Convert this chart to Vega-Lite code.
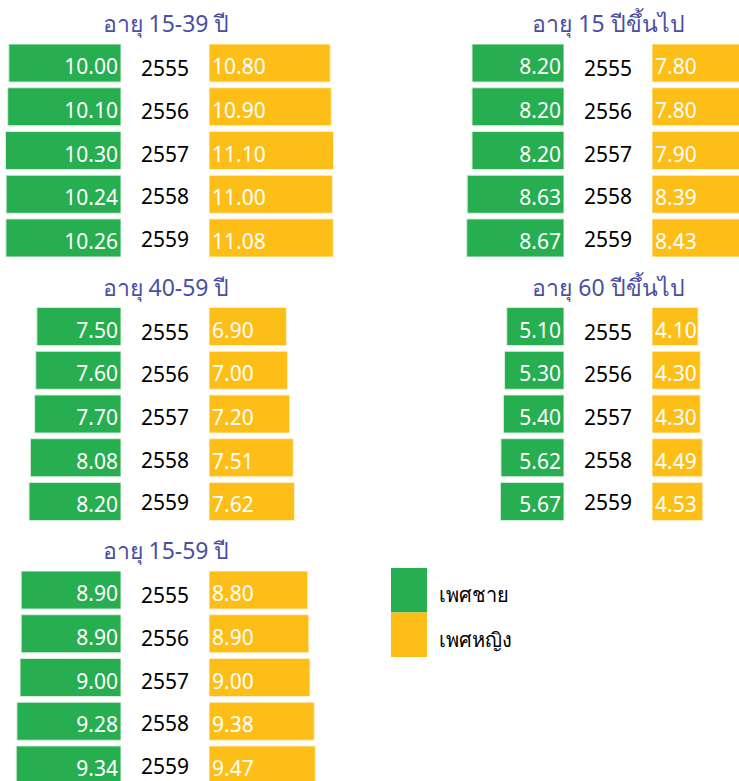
{
  "$schema": "https://vega.github.io/schema/vega-lite/v6.json",
  "padding": {"left": 5, "top": 14, "right": 0, "bottom": 0},
  "config": {
    "font": "Noto Sans",
    "view": {"stroke": null},
    "title": {"fontSize": 23, "fontWeight": "normal", "color": "#4a4fa3", "anchor": "middle", "offset": 7},
    "bar": {"strokeWidth": 1}
  },
  "datasets": {
    "p1": [
      {"year": "2555", "male": 10.00, "female": 10.80},
      {"year": "2556", "male": 10.10, "female": 10.90},
      {"year": "2557", "male": 10.30, "female": 11.10},
      {"year": "2558", "male": 10.24, "female": 11.00},
      {"year": "2559", "male": 10.26, "female": 11.08}
    ],
    "p2": [
      {"year": "2555", "male": 8.20, "female": 7.80},
      {"year": "2556", "male": 8.20, "female": 7.80},
      {"year": "2557", "male": 8.20, "female": 7.90},
      {"year": "2558", "male": 8.63, "female": 8.39},
      {"year": "2559", "male": 8.67, "female": 8.43}
    ],
    "p3": [
      {"year": "2555", "male": 7.50, "female": 6.90},
      {"year": "2556", "male": 7.60, "female": 7.00},
      {"year": "2557", "male": 7.70, "female": 7.20},
      {"year": "2558", "male": 8.08, "female": 7.51},
      {"year": "2559", "male": 8.20, "female": 7.62}
    ],
    "p4": [
      {"year": "2555", "male": 5.10, "female": 4.10},
      {"year": "2556", "male": 5.30, "female": 4.30},
      {"year": "2557", "male": 5.40, "female": 4.30},
      {"year": "2558", "male": 5.62, "female": 4.49},
      {"year": "2559", "male": 5.67, "female": 4.53}
    ],
    "p5": [
      {"year": "2555", "male": 8.90, "female": 8.80},
      {"year": "2556", "male": 8.90, "female": 8.90},
      {"year": "2557", "male": 9.00, "female": 9.00},
      {"year": "2558", "male": 9.28, "female": 9.38},
      {"year": "2559", "male": 9.34, "female": 9.47}
    ],
    "leg": [
      {"sex": "เพศชาย"},
      {"sex": "เพศหญิง"}
    ]
  },
  "spacing": 20.5,
  "vconcat": [
    {
      "spacing": 125,
      "hconcat": [
        {
          "title": {"text": "อายุ 15-39 ปี", "dx": -6},
          "spacing": 0,
          "data": {"name": "p1"},
          "hconcat": [
            {"width": 116, "height": 213,
             "layer": [
               {"mark": {"type": "bar", "color": "#27ae50", "stroke": "#d8efdc", "clip": true},
                "encoding": {"y": {"field": "year", "type": "ordinal", "scale": {"paddingInner": 0.13, "paddingOuter": 0}, "axis": null},
                             "x": {"field": "male", "type": "quantitative", "scale": {"domain": [0, 10.34], "reverse": true, "nice": false}, "axis": null}}},
               {"mark": {"type": "text", "align": "right", "baseline": "middle", "dx": -3, "dy": 5, "color": "white", "fontSize": 21},
                "encoding": {"y": {"field": "year", "type": "ordinal"},
                             "x": {"datum": 0, "type": "quantitative"},
                             "text": {"field": "male", "type": "quantitative", "format": ".2f"}}}
             ]},
            {"width": 88, "height": 213,
             "mark": {"type": "text", "align": "center", "baseline": "middle", "dy": 5, "color": "black", "fontSize": 21},
             "encoding": {"y": {"field": "year", "type": "ordinal", "scale": {"paddingInner": 0.13, "paddingOuter": 0}, "axis": null},
                          "text": {"field": "year", "type": "nominal"}}},
            {"width": 130, "height": 213,
             "layer": [
               {"mark": {"type": "bar", "color": "#fdbe17", "stroke": "#fff0c8", "clip": true},
                "encoding": {"y": {"field": "year", "type": "ordinal", "scale": {"paddingInner": 0.13, "paddingOuter": 0}, "axis": null},
                             "x": {"field": "female", "type": "quantitative", "scale": {"domain": [0, 11.586], "nice": false}, "axis": null}}},
               {"mark": {"type": "text", "align": "left", "baseline": "middle", "dx": 3, "dy": 5, "color": "white", "fontSize": 21},
                "encoding": {"y": {"field": "year", "type": "ordinal"},
                             "x": {"datum": 0, "type": "quantitative"},
                             "text": {"field": "female", "type": "quantitative", "format": ".2f"}}}
             ]}
          ]
        },
        {
          "title": {"text": "อายุ 15 ปีขึ้นไป", "dx": 7},
          "spacing": 0,
          "data": {"name": "p2"},
          "hconcat": [
            {"width": 100, "height": 213,
             "layer": [
               {"mark": {"type": "bar", "color": "#27ae50", "stroke": "#d8efdc", "clip": true},
                "encoding": {"y": {"field": "year", "type": "ordinal", "scale": {"paddingInner": 0.13, "paddingOuter": 0}, "axis": null},
                             "x": {"field": "male", "type": "quantitative", "scale": {"domain": [0, 8.913], "reverse": true, "nice": false}, "axis": null}}},
               {"mark": {"type": "text", "align": "right", "baseline": "middle", "dx": -3, "dy": 5, "color": "white", "fontSize": 21},
                "encoding": {"y": {"field": "year", "type": "ordinal"},
                             "x": {"datum": 0, "type": "quantitative"},
                             "text": {"field": "male", "type": "quantitative", "format": ".2f"}}}
             ]},
            {"width": 88, "height": 213,
             "mark": {"type": "text", "align": "center", "baseline": "middle", "dy": 5, "color": "black", "fontSize": 21},
             "encoding": {"y": {"field": "year", "type": "ordinal", "scale": {"paddingInner": 0.13, "paddingOuter": 0}, "axis": null},
                          "text": {"field": "year", "type": "nominal"}}},
            {"width": 87, "height": 213,
             "layer": [
               {"mark": {"type": "bar", "color": "#fdbe17", "stroke": "#fff0c8", "clip": true},
                "encoding": {"y": {"field": "year", "type": "ordinal", "scale": {"paddingInner": 0.13, "paddingOuter": 0}, "axis": null},
                             "x": {"field": "female", "type": "quantitative", "scale": {"domain": [0, 7.754], "nice": false}, "axis": null}}},
               {"mark": {"type": "text", "align": "left", "baseline": "middle", "dx": 3, "dy": 5, "color": "white", "fontSize": 21},
                "encoding": {"y": {"field": "year", "type": "ordinal"},
                             "x": {"datum": 0, "type": "quantitative"},
                             "text": {"field": "female", "type": "quantitative", "format": ".2f"}}}
             ]}
          ]
        }
      ]
    },
    {
      "spacing": 125,
      "hconcat": [
        {
          "title": {"text": "อายุ 40-59 ปี", "dx": -6},
          "spacing": 0,
          "data": {"name": "p3"},
          "hconcat": [
            {"width": 116, "height": 213,
             "layer": [
               {"mark": {"type": "bar", "color": "#27ae50", "stroke": "#d8efdc", "clip": true},
                "encoding": {"y": {"field": "year", "type": "ordinal", "scale": {"paddingInner": 0.13, "paddingOuter": 0}, "axis": null},
                             "x": {"field": "male", "type": "quantitative", "scale": {"domain": [0, 10.34], "reverse": true, "nice": false}, "axis": null}}},
               {"mark": {"type": "text", "align": "right", "baseline": "middle", "dx": -3, "dy": 5, "color": "white", "fontSize": 21},
                "encoding": {"y": {"field": "year", "type": "ordinal"},
                             "x": {"datum": 0, "type": "quantitative"},
                             "text": {"field": "male", "type": "quantitative", "format": ".2f"}}}
             ]},
            {"width": 88, "height": 213,
             "mark": {"type": "text", "align": "center", "baseline": "middle", "dy": 5, "color": "black", "fontSize": 21},
             "encoding": {"y": {"field": "year", "type": "ordinal", "scale": {"paddingInner": 0.13, "paddingOuter": 0}, "axis": null},
                          "text": {"field": "year", "type": "nominal"}}},
            {"width": 130, "height": 213,
             "layer": [
               {"mark": {"type": "bar", "color": "#fdbe17", "stroke": "#fff0c8", "clip": true},
                "encoding": {"y": {"field": "year", "type": "ordinal", "scale": {"paddingInner": 0.13, "paddingOuter": 0}, "axis": null},
                             "x": {"field": "female", "type": "quantitative", "scale": {"domain": [0, 11.586], "nice": false}, "axis": null}}},
               {"mark": {"type": "text", "align": "left", "baseline": "middle", "dx": 3, "dy": 5, "color": "white", "fontSize": 21},
                "encoding": {"y": {"field": "year", "type": "ordinal"},
                             "x": {"datum": 0, "type": "quantitative"},
                             "text": {"field": "female", "type": "quantitative", "format": ".2f"}}}
             ]}
          ]
        },
        {
          "title": {"text": "อายุ 60 ปีขึ้นไป", "dx": 7},
          "spacing": 0,
          "data": {"name": "p4"},
          "hconcat": [
            {"width": 100, "height": 213,
             "layer": [
               {"mark": {"type": "bar", "color": "#27ae50", "stroke": "#d8efdc", "clip": true},
                "encoding": {"y": {"field": "year", "type": "ordinal", "scale": {"paddingInner": 0.13, "paddingOuter": 0}, "axis": null},
                             "x": {"field": "male", "type": "quantitative", "scale": {"domain": [0, 8.913], "reverse": true, "nice": false}, "axis": null}}},
               {"mark": {"type": "text", "align": "right", "baseline": "middle", "dx": -3, "dy": 5, "color": "white", "fontSize": 21},
                "encoding": {"y": {"field": "year", "type": "ordinal"},
                             "x": {"datum": 0, "type": "quantitative"},
                             "text": {"field": "male", "type": "quantitative", "format": ".2f"}}}
             ]},
            {"width": 88, "height": 213,
             "mark": {"type": "text", "align": "center", "baseline": "middle", "dy": 5, "color": "black", "fontSize": 21},
             "encoding": {"y": {"field": "year", "type": "ordinal", "scale": {"paddingInner": 0.13, "paddingOuter": 0}, "axis": null},
                          "text": {"field": "year", "type": "nominal"}}},
            {"width": 87, "height": 213,
             "layer": [
               {"mark": {"type": "bar", "color": "#fdbe17", "stroke": "#fff0c8", "clip": true},
                "encoding": {"y": {"field": "year", "type": "ordinal", "scale": {"paddingInner": 0.13, "paddingOuter": 0}, "axis": null},
                             "x": {"field": "female", "type": "quantitative", "scale": {"domain": [0, 7.754], "nice": false}, "axis": null}}},
               {"mark": {"type": "text", "align": "left", "baseline": "middle", "dx": 3, "dy": 5, "color": "white", "fontSize": 21},
                "encoding": {"y": {"field": "year", "type": "ordinal"},
                             "x": {"datum": 0, "type": "quantitative"},
                             "text": {"field": "female", "type": "quantitative", "format": ".2f"}}}
             ]}
          ]
        }
      ]
    },
    {
      "spacing": 52,
      "hconcat": [
        {
          "title": {"text": "อายุ 15-59 ปี", "dx": -6},
          "spacing": 0,
          "data": {"name": "p5"},
          "hconcat": [
            {"width": 116, "height": 212,
             "layer": [
               {"mark": {"type": "bar", "color": "#27ae50", "stroke": "#d8efdc", "clip": true},
                "encoding": {"y": {"field": "year", "type": "ordinal", "scale": {"paddingInner": 0.13, "paddingOuter": 0, "range": [0, 213]}, "axis": null},
                             "x": {"field": "male", "type": "quantitative", "scale": {"domain": [0, 10.34], "reverse": true, "nice": false}, "axis": null}}},
               {"mark": {"type": "text", "align": "right", "baseline": "middle", "dx": -3, "dy": 5, "color": "white", "fontSize": 21},
                "encoding": {"y": {"field": "year", "type": "ordinal"},
                             "x": {"datum": 0, "type": "quantitative"},
                             "text": {"field": "male", "type": "quantitative", "format": ".2f"}}}
             ]},
            {"width": 88, "height": 212,
             "mark": {"type": "text", "align": "center", "baseline": "middle", "dy": 5, "color": "black", "fontSize": 21},
             "encoding": {"y": {"field": "year", "type": "ordinal", "scale": {"paddingInner": 0.13, "paddingOuter": 0, "range": [0, 213]}, "axis": null},
                          "text": {"field": "year", "type": "nominal"}}},
            {"width": 130, "height": 212,
             "layer": [
               {"mark": {"type": "bar", "color": "#fdbe17", "stroke": "#fff0c8", "clip": true},
                "encoding": {"y": {"field": "year", "type": "ordinal", "scale": {"paddingInner": 0.13, "paddingOuter": 0, "range": [0, 213]}, "axis": null},
                             "x": {"field": "female", "type": "quantitative", "scale": {"domain": [0, 11.586], "nice": false}, "axis": null}}},
               {"mark": {"type": "text", "align": "left", "baseline": "middle", "dx": 3, "dy": 5, "color": "white", "fontSize": 21},
                "encoding": {"y": {"field": "year", "type": "ordinal"},
                             "x": {"datum": 0, "type": "quantitative"},
                             "text": {"field": "female", "type": "quantitative", "format": ".2f"}}}
             ]}
          ]
        },
        {
          "width": 36, "height": 86,
          "data": {"name": "leg"},
          "mark": {"type": "rect"},
          "encoding": {
            "y": {"field": "sex", "type": "nominal", "sort": null,
                  "scale": {"paddingInner": 0, "paddingOuter": 0, "range": [-3, 86]},
                  "axis": {"orient": "right", "title": null, "domain": false, "ticks": false, "labelPadding": 11, "labelFontSize": 20, "labelColor": "black", "labelFont": "Noto Sans", "labelBaseline": "middle", "labelOffset": 6}},
            "color": {"field": "sex", "type": "nominal", "scale": {"domain": ["เพศชาย", "เพศหญิง"], "range": ["#27ae50", "#fdbe17"]}, "legend": null}
          }
        }
      ]
    }
  ]
}
